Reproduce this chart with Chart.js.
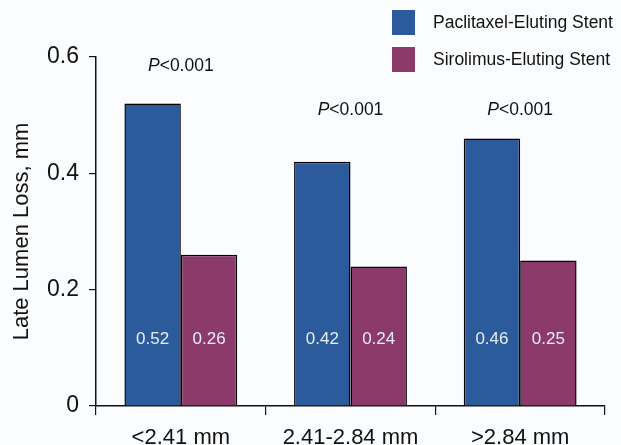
<!DOCTYPE html>
<html>
<head>
<meta charset="utf-8">
<script src="https://cdn.jsdelivr.net/npm/chart.js@4/dist/chart.umd.min.js"></script>
<style>
html,body{margin:0;padding:0;background:#fafcfd;}
#wrap{width:621px;height:445px;position:relative;}
</style>
</head>
<body>
<div id="wrap"><canvas id="c" width="621" height="445"></canvas></div>
<script>
const categories = ['<2.41 mm', '2.41-2.84 mm', '>2.84 mm'];
const seriesNames = ['Paclitaxel-Eluting Stent', 'Sirolimus-Eluting Stent'];
const paclitaxel = [0.52, 0.42, 0.46];
const sirolimus = [0.26, 0.24, 0.25];
const pValues = ['<0.001', '<0.001', '<0.001'];
const yTicks = [0, 0.2, 0.4, 0.6];

const FONT = '"Liberation Sans", Arial, sans-serif';
const colors = ['#2c5b9b', '#8c3a6a'];

const overlay = {
  id: 'overlay',
  afterDatasetsDraw(chart) {
    const ctx = chart.ctx;
    const x = chart.scales.x, y = chart.scales.y;
    ctx.save();
    // value labels inside bars
    ctx.fillStyle = '#e8eef6';
    ctx.font = '17px ' + FONT;
    ctx.textAlign = 'center';
    ctx.textBaseline = 'middle';
    chart.data.datasets.forEach((ds, di) => {
      const meta = chart.getDatasetMeta(di);
      meta.data.forEach((bar, i) => {
        ctx.fillText(ds.data[i].toFixed(2), bar.x, y.getPixelForValue(0.115));
      });
    });
    // p-values
    const pY = [0.584, 0.508, 0.508];
    ctx.fillStyle = '#111';
    ctx.textBaseline = 'middle';
    pValues.forEach((p, i) => {
      const cx = x.getPixelForValue(i);
      const italic = 'italic 17.5px ' + FONT;
      const normal = '17.5px ' + FONT;
      ctx.font = italic;
      const w1 = ctx.measureText('P').width;
      ctx.font = normal;
      const w2 = ctx.measureText(p).width;
      const start = cx - (w1 + w2) / 2;
      const py = y.getPixelForValue(pY[i]);
      ctx.textAlign = 'left';
      ctx.font = italic;
      ctx.fillText('P', start, py);
      ctx.font = normal;
      ctx.fillText(p, start + w1, py);
    });
    // legend
    ctx.font = '17.5px ' + FONT;
    ctx.textAlign = 'left';
    chart.data.datasets.forEach((ds, di) => {
      const top = 10 + di * 37;
      ctx.fillStyle = ds.backgroundColor;
      ctx.fillRect(392, top, 23, 25);
      ctx.fillStyle = '#111';
      ctx.fillText(ds.label, 433, top + 13);
    });
    ctx.restore();
  }
};

new Chart(document.getElementById('c'), {
  type: 'bar',
  data: {
    labels: categories,
    datasets: [
      { label: seriesNames[0], data: paclitaxel, backgroundColor: colors[0], borderColor: '#000', borderWidth: 1.5 },
      { label: seriesNames[1], data: sirolimus, backgroundColor: colors[1], borderColor: '#000', borderWidth: 1.5 }
    ]
  },
  options: {
    responsive: false,
    animation: false,
    devicePixelRatio: 1,
    layout: { padding: { top: 57, right: 16, left: 0, bottom: 0 } },
    plugins: { legend: { display: false }, tooltip: { enabled: false } },
    datasets: { bar: { categoryPercentage: 0.665, barPercentage: 1 } },
    scales: {
      x: {
        grid: { offset: true, drawOnChartArea: false, drawTicks: true, tickLength: 9, color: '#111', lineWidth: 1.2 },
        border: { color: '#111', width: 1.5 },
        ticks: { color: '#111', font: { family: FONT, size: 22 }, padding: 10 },
        afterFit(s) { s.height = 39; }
      },
      y: {
        min: 0, max: 0.6,
        afterBuildTicks(s) { s.ticks = yTicks.map(v => ({ value: v })); },
        grid: { drawOnChartArea: false, drawTicks: true, tickLength: 7, color: '#111', lineWidth: 1.2 },
        border: { color: '#111', width: 1.5 },
        ticks: { color: '#111', font: { family: FONT, size: 23 }, padding: 10,
          callback: v => v === 0 ? '0' : v.toFixed(1) },
        title: { display: true, text: 'Late Lumen Loss, mm', color: '#111', font: { family: FONT, size: 22 }, padding: { top: 9, bottom: 4 } },
        afterFit(s) { s.width = 96; }
      }
    }
  },
  plugins: [overlay]
});
</script>
</body>
</html>
